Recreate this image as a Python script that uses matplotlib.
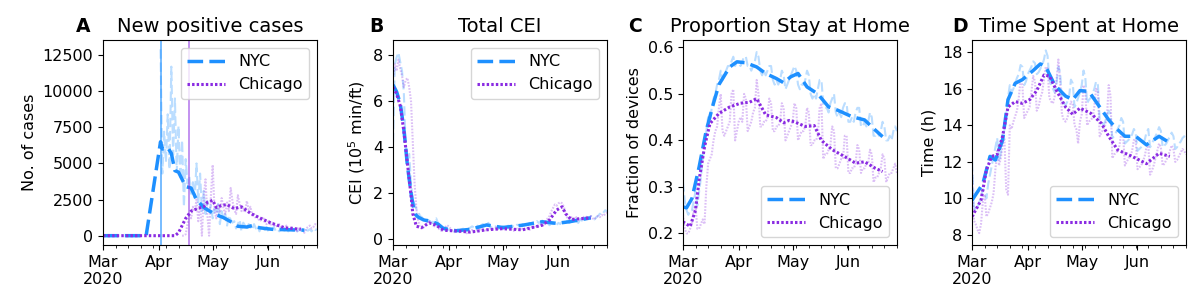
import numpy as np
import pandas as pd
import matplotlib
matplotlib.use('Agg')
from matplotlib import pyplot as plt
import matplotlib.dates as mdates
from matplotlib.ticker import FuncFormatter

# ---------------------------------------------------------------------------
# data: daily series, day 0 = 2020-03-01
start = pd.Timestamp('2020-03-01')
n_days = 120

# A: new positive cases (raw daily, starting at the given day)
nyc_cases_start = 32
nyc_cases = [12900, 4300, 7200, 5100, 8400, 4600, 11700,
             5600, 9500, 4400, 7600, 3900, 6600, 2000,
             5300, 3600, 4100, 2900, 3700, 2600, 5000,
             2300, 4300, 1700, 3100, 1500, 2400, 1700,
             2100, 1200, 1900, 1500, 2200, 800, 1700,
             1200, 1500, 700, 1400, 1100, 900, 1000,
             500, 800, 1100, 300, 900, 700, 500,
             800, 600, 400, 800, 500, 700, 300,
             600, 500, 400, 600, 300, 500, 400,
             600, 350, 450, 300, 500, 400, 350,
             500, 300, 450, 400, 350, 500, 300,
             400, 350, 450, 300, 400, 350, 450,
             300, 500, 400, 450]
chi_cases_start = 44
chi_cases = [0, 0, 100, 800, 1500, 1200, 2000,
             1700, 2500, 1000, 2200, 0, 2600, 3900,
             1500, 0, 2700, 4900, 1800, 1200, 2200,
             1600, 2600, 1900, 1500, 2300, 1700, 3300,
             2400, 1800, 1500, 2800, 2200, 1700, 1900,
             1600, 2400, 1800, 2000, 1400, 1500, 1200,
             1300, 1000, 1100, 1300, 900, 800, 1000,
             700, 900, 800, 600, 700, 800, 500,
             600, 500, 700, 400, 500, 600, 400,
             500, 300, 600, 500, 400, 200, 500,
             600, 700, 500, 600, 800, 700]
# smoothed curves (day, value)
nyc_cases_sm_day = [0, 24, 32, 33, 36, 38, 40, 42, 46, 49, 52, 56, 62, 67, 72, 75, 80, 83, 87, 90, 95, 100, 112]
nyc_cases_sm = [0, 0, 6500, 6000, 6100, 5700, 4500, 4400, 3400, 3300, 2500, 1950, 1500, 1250, 900, 650, 600, 700, 550, 500, 430, 420, 380]
chi_cases_sm_day = [0, 40, 42, 46, 49, 53, 56, 58, 61, 63, 66, 69, 73, 77, 82, 88, 94, 101, 110]
chi_cases_sm = [0, 0, 200, 1200, 1700, 1900, 2000, 2300, 2450, 1950, 2100, 2150, 1870, 2000, 1550, 1180, 850, 550, 440]
nyc_peak_day = 32
chi_peak_day = 48

# B: total CEI (10^5 min/ft)
nyc_cei = [4.2, 7.6, 7.9, 8.1, 7.7, 7.3, 6.4,
           4.1, 3.5, 3.7, 2.4, 1.7, 1.5, 1.3,
           1.2, 1.0, 0.95, 0.85, 0.75, 0.85, 0.8,
           0.75, 0.7, 0.85, 0.9, 0.7, 0.6, 0.5,
           0.45, 0.5, 0.45, 0.4, 0.38, 0.42, 0.35,
           0.36, 0.4, 0.38, 0.42, 0.45, 0.4, 0.35,
           0.45, 0.5, 0.55, 0.5, 0.48, 0.58, 0.52,
           0.6, 0.65, 0.55, 0.6, 0.7, 0.55, 0.5,
           0.48, 0.55, 0.5, 0.45, 0.5, 0.55, 0.48,
           0.5, 0.58, 0.55, 0.5, 0.6, 0.55, 0.62,
           0.6, 0.55, 0.65, 0.6, 0.68, 0.62, 0.7,
           0.65, 0.72, 0.7, 0.78, 0.7, 0.75, 0.8,
           0.72, 0.65, 0.7, 0.6, 0.68, 0.65, 0.7,
           0.62, 0.7, 0.65, 0.75, 0.7, 0.72, 0.8,
           0.7, 0.75, 0.85, 0.8, 0.78, 0.7, 0.85,
           0.8, 0.9, 0.85, 0.95, 0.9, 1.0, 0.95,
           0.85, 0.95, 1.0, 1.1, 1.05, 1.15, 1.25,
           1.2]
chi_cei = [7.0, 7.6, 7.3, 7.8, 7.4, 7.1, 6.6,
           6.9, 7.0, 6.6, 6.0, 4.2, 2.4, 1.3,
           0.8, 0.5, 0.45, 0.5, 0.6, 0.7, 0.8,
           0.7, 0.6, 0.55, 0.65, 0.5, 0.4, 0.35,
           0.4, 0.5, 0.6, 0.55, 0.45, 0.35, 0.3,
           0.35, 0.4, 0.3, 0.35, 0.38, 0.3, 0.25,
           0.3, 0.35, 0.4, 0.35, 0.3, 0.38, 0.42,
           0.4, 0.45, 0.38, 0.35, 0.42, 0.45, 0.4,
           0.48, 0.5, 0.42, 0.45, 0.5, 0.45, 0.4,
           0.42, 0.48, 0.45, 0.4, 0.35, 0.42, 0.45,
           0.4, 0.38, 0.45, 0.42, 0.5, 0.45, 0.4,
           0.5, 0.55, 0.48, 0.6, 0.55, 0.62, 0.7,
           0.6, 0.8, 0.9, 1.0, 1.2, 1.35, 1.5,
           1.45, 1.55, 1.6, 1.55, 1.4, 1.1, 0.9,
           0.85, 0.95, 0.9, 0.85, 0.95, 0.9, 0.85,
           0.9, 0.95, 1.0, 0.9, 0.95, 1.0, 0.9,
           0.85, 0.95, 1.0, 0.95, 1.05, 1.0, 1.1,
           1.15]
nyc_cei_sm_day = [0, 2, 4, 6, 8, 10, 12, 14, 17, 22, 25, 28, 35, 43, 52, 61, 72, 83, 91, 98, 110]
nyc_cei_sm = [6.7, 6.4, 5.9, 4.8, 3.2, 2.0, 1.1, 0.95, 0.83, 0.75, 0.65, 0.46, 0.36, 0.42, 0.61, 0.5, 0.6, 0.75, 0.68, 0.75, 0.92]
chi_cei_sm_day = [0, 2, 4, 6, 8, 10, 11, 13, 16, 20, 24, 28, 35, 43, 52, 61, 72, 83, 87, 91, 94, 96, 99, 104, 110]
chi_cei_sm = [6.6, 6.3, 5.8, 4.7, 3.3, 1.9, 1.1, 0.55, 0.5, 0.7, 0.6, 0.38, 0.35, 0.3, 0.4, 0.45, 0.4, 0.6, 0.83, 1.26, 1.4, 1.1, 0.85, 0.88, 0.92]

# C: proportion of devices staying at home
nyc_home = [0.31, 0.27, 0.25, 0.24, 0.25, 0.25, 0.27,
            0.29, 0.26, 0.29, 0.32, 0.36, 0.39, 0.42,
            0.45, 0.44, 0.47, 0.49, 0.50, 0.52, 0.53,
            0.55, 0.53, 0.54, 0.55, 0.56, 0.56, 0.57,
            0.58, 0.56, 0.57, 0.57, 0.56, 0.57, 0.58,
            0.58, 0.56, 0.56, 0.55, 0.56, 0.57, 0.59,
            0.58, 0.55, 0.54, 0.55, 0.54, 0.55, 0.56,
            0.56, 0.53, 0.52, 0.53, 0.52, 0.53, 0.55,
            0.54, 0.51, 0.52, 0.53, 0.54, 0.55, 0.56,
            0.55, 0.52, 0.51, 0.52, 0.52, 0.53, 0.55,
            0.54, 0.50, 0.49, 0.50, 0.49, 0.51, 0.53,
            0.53, 0.48, 0.47, 0.47, 0.46, 0.48, 0.49,
            0.50, 0.46, 0.45, 0.46, 0.45, 0.47, 0.48,
            0.48, 0.44, 0.44, 0.45, 0.44, 0.46, 0.47,
            0.47, 0.43, 0.43, 0.44, 0.43, 0.44, 0.46,
            0.45, 0.41, 0.41, 0.42, 0.41, 0.42, 0.44,
            0.43, 0.40, 0.40, 0.41, 0.40, 0.42, 0.43,
            0.42]
chi_home = [0.24, 0.21, 0.20, 0.20, 0.21, 0.22, 0.25,
            0.26, 0.21, 0.21, 0.22, 0.23, 0.22, 0.30,
            0.35, 0.36, 0.37, 0.40, 0.42, 0.43, 0.47,
            0.50, 0.42, 0.41, 0.42, 0.43, 0.44, 0.50,
            0.51, 0.40, 0.42, 0.44, 0.45, 0.44, 0.50,
            0.49, 0.42, 0.43, 0.44, 0.46, 0.47, 0.53,
            0.50, 0.43, 0.43, 0.44, 0.44, 0.45, 0.49,
            0.48, 0.42, 0.42, 0.43, 0.43, 0.44, 0.48,
            0.47, 0.40, 0.41, 0.42, 0.43, 0.44, 0.48,
            0.47, 0.40, 0.41, 0.42, 0.42, 0.43, 0.47,
            0.46, 0.39, 0.39, 0.40, 0.40, 0.41, 0.47,
            0.48, 0.36, 0.37, 0.37, 0.38, 0.39, 0.43,
            0.42, 0.34, 0.34, 0.35, 0.36, 0.36, 0.41,
            0.41, 0.33, 0.33, 0.34, 0.34, 0.35, 0.39,
            0.38, 0.33, 0.34, 0.34, 0.35, 0.35, 0.38,
            0.37, 0.31, 0.32, 0.32, 0.33, 0.34, 0.37,
            0.36, 0.31, 0.32, 0.33, 0.33, 0.34, 0.35,
            0.33]
nyc_home_sm_day = [0, 2, 5, 9, 13, 17, 20, 26, 30, 35, 41, 46, 52, 56, 60, 64, 69, 75, 81, 86, 94, 101, 107, 111]
nyc_home_sm = [0.257, 0.255, 0.275, 0.343, 0.422, 0.48, 0.52, 0.558, 0.569, 0.567, 0.558, 0.544, 0.533, 0.524, 0.537, 0.544, 0.515, 0.50, 0.472, 0.465, 0.451, 0.444, 0.422, 0.408]
chi_home_sm_day = [0, 4, 7, 9, 12, 15, 20, 26, 32, 37, 41, 46, 52, 56, 59, 62, 68, 73, 77, 83, 90, 96, 101, 107, 111]
chi_home_sm = [0.225, 0.215, 0.25, 0.315, 0.386, 0.436, 0.458, 0.472, 0.48, 0.482, 0.49, 0.455, 0.449, 0.438, 0.443, 0.44, 0.43, 0.432, 0.40, 0.38, 0.365, 0.351, 0.354, 0.34, 0.333]

# D: time spent at home (h)
nyc_time = [12.0, 9.6, 9.3, 9.5, 9.8, 10.0, 10.5,
            10.4, 10.0, 10.8, 11.3, 11.8, 12.3, 12.8,
            13.3, 12.0, 12.5, 13.1, 13.8, 14.5, 15.5,
            16.2, 15.8, 16.0, 16.3, 16.6, 16.8, 17.3,
            17.2, 16.2, 16.4, 16.8, 17.0, 17.2, 17.5,
            17.4, 16.8, 16.9, 17.1, 17.3, 17.6, 18.1,
            17.8, 16.5, 16.2, 16.0, 15.8, 16.3, 17.2,
            16.9, 15.3, 15.2, 15.1, 15.3, 15.6, 16.5,
            16.3, 15.0, 15.2, 15.5, 15.8, 16.2, 17.0,
            16.6, 15.2, 15.4, 15.5, 15.7, 16.0, 16.4,
            16.2, 14.3, 14.2, 14.0, 14.2, 14.5, 14.8,
            14.6, 13.3, 13.4, 13.6, 13.8, 14.0, 14.4,
            14.2, 13.0, 13.1, 13.2, 13.3, 13.5, 13.8,
            13.6, 12.6, 12.7, 12.8, 13.0, 13.2, 13.6,
            13.8, 12.8, 13.0, 13.2, 13.4, 13.6, 13.9,
            13.7, 12.8, 12.9, 13.0, 13.2, 13.4, 13.6,
            13.4, 12.7, 12.8, 13.0, 13.1, 13.3, 13.4,
            13.2]
chi_time = [11.5, 8.8, 8.6, 8.3, 8.1, 8.6, 9.8,
            10.2, 9.0, 9.2, 9.5, 9.8, 10.3, 11.6,
            12.6, 11.8, 12.2, 12.9, 13.3, 10.5, 10.2,
            14.0, 13.8, 14.2, 14.5, 14.8, 15.5, 16.5,
            16.2, 14.4, 14.6, 14.8, 15.0, 15.8, 16.7,
            16.4, 14.8, 15.0, 15.5, 15.8, 16.5, 17.2,
            17.1, 15.5, 15.3, 15.2, 15.6, 16.5, 17.6,
            16.4, 14.6, 14.3, 14.2, 14.4, 14.8, 15.3,
            15.2, 14.0, 13.8, 13.0, 14.2, 14.6, 16.2,
            15.8, 14.0, 14.2, 14.3, 14.4, 15.0, 16.0,
            15.8, 13.4, 13.6, 13.8, 14.0, 14.4, 16.2,
            15.6, 12.2, 12.4, 12.5, 12.6, 12.9, 13.6,
            13.5, 11.8, 12.0, 12.2, 12.3, 12.6, 13.2,
            13.2, 11.6, 11.7, 11.8, 12.0, 12.3, 12.8,
            12.9, 11.3, 11.5, 11.8, 12.2, 12.6, 13.0,
            12.8, 11.8, 11.9, 12.1, 12.3, 12.6, 12.9,
            12.7, 12.0, 12.1, 12.3, 12.5, 12.7, 12.6,
            12.4]
nyc_time_sm_day = [0, 6, 10, 13, 17, 20, 24, 28, 34, 38, 41, 46, 52, 56, 60, 65, 71, 76, 80, 85, 91, 97, 104, 109, 111]
nyc_time_sm = [9.9, 10.8, 12.3, 12.1, 13.2, 15.4, 16.3, 16.5, 17.0, 17.36, 17.2, 16.2, 15.6, 15.4, 15.9, 15.85, 15.0, 14.3, 13.85, 13.4, 13.4, 12.93, 13.4, 13.1, 13.1]
chi_time_sm_day = [0, 5, 8, 11, 14, 17, 20, 24, 28, 32, 36, 40, 43, 47, 52, 56, 60, 66, 72, 76, 81, 89, 97, 104, 110]
chi_time_sm = [9.0, 9.9, 11.56, 12.3, 12.4, 13.4, 15.0, 15.3, 15.2, 15.4, 15.9, 16.75, 16.7, 15.9, 15.0, 14.6, 14.94, 14.66, 14.1, 13.4, 12.65, 12.3, 11.9, 12.47, 12.3]

#=======================================================================================

c_nyc = '#1E90FF'
c_chi = '#8A2BE2'
fs = 11.5
dash = (0, (4.5, 1.8))
dots = (0, (0.8, 0.7))


def to_dates(days):
    return start + pd.to_timedelta(np.asarray(days), unit='D')


def month_fmt(x, pos):
    d = mdates.num2date(x)
    return d.strftime('%b\n%Y') if d.month == 3 else d.strftime('%b')


def draw_panel(ax, raw_nyc, raw_chi, sm_nyc, sm_chi, nyc0=0, chi0=0):
    ax.plot(to_dates(np.arange(len(raw_nyc)) + nyc0), raw_nyc, color=c_nyc, ls=dash, lw=1.5, alpha=0.3)
    ax.plot(to_dates(np.arange(len(raw_chi)) + chi0), raw_chi, color=c_chi, ls=dots, lw=1.5, alpha=0.3)
    ax.plot(to_dates(sm_nyc[0]), sm_nyc[1], color=c_nyc, ls=dash, lw=2.5, label='NYC')
    ax.plot(to_dates(sm_chi[0]), sm_chi[1], color=c_chi, ls=dots, lw=2.2, label='Chicago')
    ax.set_xlim(start, start + pd.Timedelta(days=n_days - 1))
    ax.xaxis.set_major_locator(mdates.MonthLocator())
    ax.xaxis.set_minor_locator(mdates.WeekdayLocator(byweekday=mdates.SU))
    ax.xaxis.set_major_formatter(FuncFormatter(month_fmt))
    ax.tick_params(labelsize=fs)


fig = plt.figure(figsize=(12.03, 2.96), dpi=100)
lefts = [0.0856, 0.3267, 0.5677, 0.808]
axs = [fig.add_axes([l, 0.1723, 0.1779, 0.6926]) for l in lefts]

# A
ax = axs[0]
draw_panel(ax, nyc_cases, chi_cases, (nyc_cases_sm_day, nyc_cases_sm), (chi_cases_sm_day, chi_cases_sm),
           nyc0=nyc_cases_start, chi0=chi_cases_start)
ax.axvline(to_dates(nyc_peak_day), color=c_nyc, lw=1.2, alpha=0.7)
ax.axvline(to_dates(chi_peak_day), color=c_chi, lw=1.2, alpha=0.6)
ax.set_ylim(-645, 13545)
ax.set_yticks([0, 2500, 5000, 7500, 10000, 12500])
ax.set_ylabel('No. of cases', fontsize=fs)
ax.legend(loc='upper right', fontsize=fs, handlelength=2.4)

# B
ax = axs[1]
draw_panel(ax, nyc_cei, chi_cei, (nyc_cei_sm_day, nyc_cei_sm), (chi_cei_sm_day, chi_cei_sm))
ax.set_ylim(-0.26, 8.65)
ax.set_yticks([0, 2, 4, 6, 8])
ax.set_ylabel(r'CEI ($10^5$ min/ft)', fontsize=fs)
ax.legend(loc='upper right', fontsize=fs, handlelength=2.4)

# C
ax = axs[2]
draw_panel(ax, nyc_home, chi_home, (nyc_home_sm_day, nyc_home_sm), (chi_home_sm_day, chi_home_sm))
ax.set_ylim(0.175, 0.616)
ax.set_yticks([0.2, 0.3, 0.4, 0.5, 0.6])
ax.set_ylabel('Fraction of devices', fontsize=fs)
ax.legend(loc='lower right', fontsize=fs, handlelength=2.4)

# D
ax = axs[3]
draw_panel(ax, nyc_time, chi_time, (nyc_time_sm_day, nyc_time_sm), (chi_time_sm_day, chi_time_sm))
ax.set_ylim(7.45, 18.67)
ax.set_yticks([8, 10, 12, 14, 16, 18])
ax.set_ylabel('Time (h)', fontsize=fs)
ax.legend(loc='lower right', fontsize=fs, handlelength=2.4)

titles = ['New positive cases', 'Total CEI', 'Proportion Stay at Home', 'Time Spent at Home']
letters = ['A', 'B', 'C', 'D']
letter_x = [-0.126, -0.112, -0.257, -0.093]
for ax, t, lt, lx in zip(axs, titles, letters, letter_x):
    ax.set_title(t, fontsize=14)
    ax.annotate(lt, xy=(lx, 1), xycoords='axes fraction', xytext=(0, 6), textcoords='offset points',
                fontsize=13.5, fontweight='bold', va='baseline', ha='left')

plt.savefig('out.png', dpi=100)
